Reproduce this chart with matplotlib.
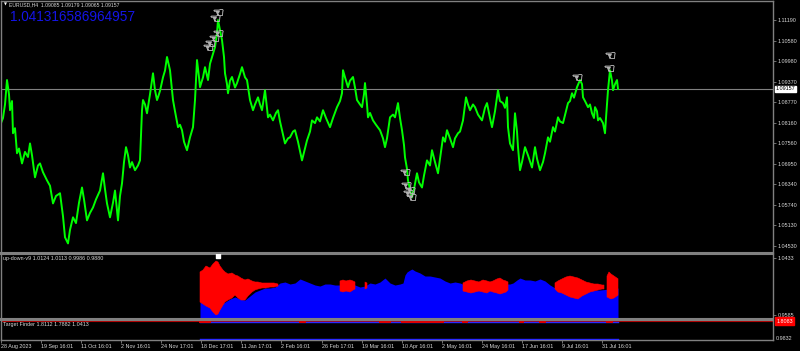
import numpy as np
import matplotlib
matplotlib.use("Agg")
import matplotlib.pyplot as plt
from matplotlib.textpath import TextPath
from matplotlib.font_manager import FontProperties
from matplotlib.markers import MarkerStyle

plt.rcParams['font.family'] = ['Liberation Sans', 'DejaVu Sans']

# ---------------- data ----------------
# time index (1 unit ~ 2.4 H4 bars)
price_t = [1, 3, 5, 7, 9, 10, 12, 13, 15, 17, 19, 22, 25, 28, 30, 32, 35, 38, 40, 43, 47, 50, 53, 56, 60,
           63, 65, 68, 70, 73, 76, 79, 82, 84, 87, 90, 93, 96, 100, 103, 105, 107, 110, 113, 115, 118, 120,
           122, 124, 126, 128, 130, 132, 135, 138, 140, 142, 143, 145, 147, 150, 153, 155, 157, 158, 160,
           163, 165, 167, 170, 173, 175, 178, 180, 182, 184, 187, 190, 193, 195, 197, 199, 200, 203, 205,
           208, 210, 212, 215, 217, 218, 220, 222, 224, 225, 227, 228, 230, 232, 235, 237, 240, 242, 245,
           247, 250, 253, 255, 258, 260, 262, 265, 268, 270, 273, 276, 278, 280, 282, 285, 288, 290, 293,
           295, 298, 302, 305, 307, 310, 312, 315, 317, 320, 323, 326, 330, 333, 337, 340, 342, 343, 345,
           348, 350, 353, 355, 357, 360, 362, 364, 365, 367, 368, 370, 373, 376, 380, 383, 385, 387, 390,
           393, 395, 398, 400, 402, 404, 405, 407, 408, 410, 412, 414, 417, 419, 422, 424, 427, 430, 432,
           435, 438, 440, 443, 445, 447, 450, 453, 455, 458, 460, 463, 466, 468, 470, 473, 475, 478, 482,
           485, 487, 490, 492, 495, 498, 500, 503, 505, 507, 508, 510, 513, 515, 517, 518, 520, 522, 525,
           528, 532, 535, 537, 540, 543, 545, 548, 550, 553, 555, 558, 560, 563, 566, 568, 570, 572, 574,
           577, 580, 582, 583, 585, 588, 590, 592, 594, 595, 597, 598, 600, 603, 605, 606, 608, 610, 612,
           613, 615, 617, 618]
price_close = [1.0815, 1.0830, 1.0870, 1.0942, 1.0900, 1.0853, 1.0880, 1.0785, 1.0800, 1.0726, 1.0740,
               1.0696, 1.0730, 1.0715, 1.0755, 1.0720, 1.0655, 1.0690, 1.0696, 1.0670, 1.0646, 1.0630,
               1.0578, 1.0600, 1.0608, 1.0540, 1.0478, 1.0460, 1.0500, 1.0537, 1.0520, 1.0580, 1.0625,
               1.0590, 1.0528, 1.0550, 1.0566, 1.0590, 1.0616, 1.0667, 1.0620, 1.0578, 1.0537, 1.0580,
               1.0616, 1.0528, 1.0600, 1.0637, 1.0700, 1.0744, 1.0720, 1.0684, 1.0700, 1.0676, 1.0690,
               1.0705, 1.0853, 1.0883, 1.0870, 1.0844, 1.0900, 1.0962, 1.0912, 1.0883, 1.0891, 1.0910,
               1.0950, 1.0970, 1.1010, 1.0971, 1.0883, 1.0850, 1.0803, 1.0810, 1.0794, 1.0760, 1.0735,
               1.0773, 1.0803, 1.0883, 1.1001, 1.0950, 1.0921, 1.0950, 1.0980, 1.0942, 1.0990, 1.1010,
               1.1039, 1.1080, 1.1119, 1.1090, 1.1060, 1.1010, 1.0962, 1.0930, 1.0903, 1.0940, 1.0951,
               1.0920, 1.0933, 1.0960, 1.0980, 1.0950, 1.0942, 1.0883, 1.0853, 1.0870, 1.0891, 1.0870,
               1.0853, 1.0912, 1.0832, 1.0840, 1.0823, 1.0845, 1.0853, 1.0820, 1.0794, 1.0755, 1.0770,
               1.0773, 1.0790, 1.0794, 1.0760, 1.0705, 1.0740, 1.0764, 1.0790, 1.0823, 1.0815, 1.0832,
               1.0820, 1.0853, 1.0830, 1.0803, 1.0830, 1.0862, 1.0880, 1.0903, 1.0971, 1.0950, 1.0921,
               1.0940, 1.0951, 1.0920, 1.0883, 1.0870, 1.0862, 1.0900, 1.0933, 1.0870, 1.0832, 1.0845,
               1.0823, 1.0810, 1.0794, 1.0770, 1.0744, 1.0770, 1.0832, 1.0840, 1.0832, 1.0874, 1.0830,
               1.0794, 1.0750, 1.0714, 1.0680, 1.0646, 1.0620, 1.0596, 1.0620, 1.0667, 1.0640, 1.0625,
               1.0660, 1.0705, 1.0690, 1.0735, 1.0700, 1.0667, 1.0710, 1.0773, 1.0760, 1.0794, 1.0770,
               1.0744, 1.0770, 1.0785, 1.0790, 1.0823, 1.0891, 1.0870, 1.0853, 1.0870, 1.0862, 1.0840,
               1.0823, 1.0860, 1.0874, 1.0830, 1.0803, 1.0850, 1.0912, 1.0880, 1.0874, 1.0860, 1.0891,
               1.0803, 1.0755, 1.0735, 1.0844, 1.0790, 1.0744, 1.0676, 1.0700, 1.0744, 1.0720, 1.0684,
               1.0744, 1.0710, 1.0676, 1.0700, 1.0726, 1.0773, 1.0760, 1.0803, 1.0790, 1.0832, 1.0820,
               1.0815, 1.0850, 1.0874, 1.0880, 1.0903, 1.0890, 1.0921, 1.0942, 1.0930, 1.0891, 1.0880,
               1.0862, 1.0870, 1.0844, 1.0830, 1.0862, 1.0850, 1.0823, 1.0830, 1.0815, 1.0785, 1.0830,
               1.0912, 1.0971, 1.0940, 1.0912, 1.0930, 1.0942, 1.09157]
last_price = 1.09157

price_ticks = [1.11190, 1.10580, 1.09980, 1.09370, 1.08770, 1.08160, 1.07560,
               1.06950, 1.06340, 1.05740, 1.05130, 1.04530]

signal_t = [218, 215, 218, 214, 210, 208, 405, 406, 410, 408, 411, 577, 610, 609]
signal_price = [1.1143, 1.1125, 1.1081, 1.1066, 1.1051, 1.1039, 1.0670, 1.0631, 1.0619,
                1.0608, 1.0596, 1.0951, 1.1016, 1.0977]

# up-down-v9 indicator
ud_t = [200, 205, 210, 215, 217, 220, 225, 230, 235, 240, 245, 250, 255, 260, 265, 270, 275, 280,
        285, 290, 295, 300, 305, 310, 315, 320, 325, 330, 335, 340, 345, 350, 355, 360, 365, 370,
        375, 380, 385, 390, 395, 400, 403, 405, 407, 410, 412, 415, 420, 425, 430, 435, 440, 445,
        450, 455, 460, 465, 470, 475, 480, 485, 490, 495, 500, 505, 510, 513, 517, 520, 525, 530,
        535, 540, 545, 550, 555, 560, 570, 580, 590, 600, 610, 618]
ud_blue = [0.9778, 0.9763, 0.9749, 0.9719, 0.9659, 0.9734, 0.9778, 0.9823, 0.9853, 0.9823, 0.9808,
           0.9868, 0.9927, 0.9957, 0.9987, 0.9987, 1.0001, 1.0061, 1.0076, 1.0046, 1.0061, 1.0121,
           1.0091, 1.0061, 1.0031, 1.0016, 1.0046, 1.0046, 1.0031, 1.0031, 1.0016, 1.0031, 1.0031,
           1.0001, 1.0016, 1.0061, 1.0046, 1.0076, 1.0135, 1.0061, 1.0031, 1.0046, 1.0061, 1.0180,
           1.0225, 1.0254, 1.0269, 1.0240, 1.0210, 1.0165, 1.0165, 1.0150, 1.0135, 1.0091, 1.0061,
           1.0076, 1.0061, 1.0031, 1.0046, 1.0016, 1.0031, 1.0046, 1.0031, 1.0016, 1.0031, 1.0046,
           1.0046, 1.0061, 1.0106, 1.0135, 1.0106, 1.0106, 1.0091, 1.0121, 1.0091, 1.0031, 0.9987,
           0.9957, 0.9957, 0.9942, 0.9957, 0.9957, 0.9972, 0.9986]

nan = float('nan')
red_t = [200, 203, 206, 210, 213, 216, 218, 220, 223, 225, 228, 232, 235, 238, 241, 245, 248, 252,
         255, 258, 262, 266, 270, 274, 278, 279,
         340, 343, 346, 350, 353, 355, 356,
         365, 367, 368,
         463, 467, 471, 475, 479, 483, 487, 490, 493, 497, 500, 503, 506, 508, 509,
         555, 558, 562, 566, 570, 574, 578, 582, 586, 590, 594, 598, 602, 604, 605,
         607, 609, 611, 614, 618]
red_hi = [1.0225, 1.0254, 1.0314, 1.0284, 1.0344, 1.0388, 1.0373, 1.0314, 1.0254, 1.0225, 1.0195,
          1.0210, 1.0180, 1.0165, 1.0135, 1.0106, 1.0121, 1.0091, 1.0076, 1.0076, 1.0061, 1.0061,
          1.0061, 1.0061, 1.0046, nan,
          1.0091, 1.0106, 1.0091, 1.0106, 1.0091, 1.0076, nan,
          1.0076, 1.0061, nan,
          1.0061, 1.0091, 1.0106, 1.0091, 1.0076, 1.0106, 1.0091, 1.0076, 1.0091, 1.0121, 1.0135,
          1.0106, 1.0091, 1.0076, nan,
          1.0061, 1.0091, 1.0121, 1.0150, 1.0165, 1.0150, 1.0135, 1.0106, 1.0076, 1.0061, 1.0046,
          1.0046, 1.0031, 1.0031, nan,
          1.0165, 1.0225, 1.0195, 1.0165, 1.0124]
red_lo = [0.9778, 0.9749, 0.9719, 0.9689, 0.9630, 0.9585, 0.9600, 0.9659, 0.9734, 0.9778, 0.9808,
          0.9838, 0.9882, 0.9838, 0.9808, 0.9808, 0.9868, 0.9927, 0.9957, 0.9972, 0.9987, 0.9987,
          1.0001, 1.0001, 1.0016, nan,
          0.9942, 0.9927, 0.9942, 0.9927, 0.9957, 0.9972, nan,
          0.9972, 0.9987, nan,
          0.9942, 0.9927, 0.9912, 0.9927, 0.9942, 0.9927, 0.9912, 0.9942, 0.9927, 0.9912, 0.9897,
          0.9912, 0.9927, 0.9957, nan,
          0.9972, 0.9927, 0.9912, 0.9882, 0.9853, 0.9838, 0.9823, 0.9868, 0.9897, 0.9927, 0.9942,
          0.9957, 0.9972, 0.9972, nan,
          0.9853, 0.9838, 0.9823, 0.9838, 0.9880]
ud_peak_t = [218]
ud_peak_v = [1.0463]
ud_labels = [1.0433, 0.9585]

# Target Finder indicator
tf_level = 1.8112
tf_upper_t = [200, 618]
tf_upper = [1.7882, 1.7882]
tf_lower = [1.0413, 1.0413]
tf_red_ranges = [(200, 210), (300, 305), (380, 390), (402, 443), (463, 467), (520, 523),
                 (540, 545), (607, 612)]

date_tick_t = [1, 41, 81, 121, 161, 201, 241, 281, 322, 362, 402, 442, 482, 522, 562, 602]
date_labels = ["28 Aug 2023", "19 Sep 16:01", "11 Oct 16:01", "2 Nov 16:01", "24 Nov 17:01",
               "18 Dec 17:01", "11 Jan 17:01", "2 Feb 16:01", "26 Feb 17:01", "19 Mar 16:01",
               "10 Apr 16:01", "2 May 16:01", "24 May 16:01", "17 Jun 16:01", "9 Jul 16:01",
               "31 Jul 16:01"]

# ---------------- figure ----------------
W, H = 800, 351
fig = plt.figure(figsize=(W / 100, H / 100), dpi=100, facecolor='black')


def rect(x0, y0, x1, y1):
    return [x0 / W, 1 - y1 / H, (x1 - x0) / W, (y1 - y0) / H]


ax = fig.add_axes(rect(1, 1, 773, 252.5))
ax_ud = fig.add_axes(rect(1, 254, 773, 318.5))
ax_tf = fig.add_axes(rect(1, 320, 773, 340))

GRAY = '#808080'
TXT = '#d8d8d8'
FS = 3.9

for a in (ax, ax_ud, ax_tf):
    a.set_facecolor('black')
    a.set_xlim(1, 773)
    for s in a.spines.values():
        s.set_color(GRAY)
        s.set_linewidth(1.0)
    a.yaxis.tick_right()
    a.tick_params(axis='y', direction='out', length=2, width=0.6, color=GRAY,
                  labelcolor=TXT, labelsize=FS, pad=1.5)
    a.tick_params(axis='x', bottom=False, labelbottom=False)

ax.spines['bottom'].set_linewidth(1.5)
ax_ud.spines['top'].set_linewidth(1.5)
ax_ud.spines['bottom'].set_linewidth(1.5)
ax_tf.spines['top'].set_linewidth(1.5)

# main price panel
ax.set_ylim(1.04332, 1.11752)
ax.axhline(last_price, color=GRAY, lw=0.8, zorder=1)
ax.plot(price_t, price_close, color='#00ff00', lw=1.4, zorder=2)
ax.set_yticks(price_ticks)
ax.set_yticklabels([f"{v:.5f}" for v in price_ticks])

hand = TextPath((0, 0), "\u261c", prop=FontProperties(family='DejaVu Sans'))
ext = hand.get_extents()
hand_marker = MarkerStyle(hand.transformed(
    matplotlib.transforms.Affine2D().translate(-ext.x0 - ext.width / 2, -ext.y0 - ext.height / 2)))
ax.scatter(signal_t, signal_price, marker=hand_marker, s=70, facecolor='white',
           edgecolor='#b0b0b0', linewidths=0.3, zorder=4)
ax.text(1.003, last_price, f"{last_price:.5f}", transform=ax.get_yaxis_transform(),
        fontsize=FS, color='black', va='center', ha='left',
        bbox=dict(boxstyle='square,pad=0.15', facecolor='white', edgecolor='white'))
ax.text(0.004, 0.986, "\u25bc", transform=ax.transAxes, fontsize=2.8, color='white',
        va='center', ha='left', family=['DejaVu Sans'])
ax.text(0.0105, 0.986, "EURUSD,H4  1.09085 1.09179 1.09065 1.09157", transform=ax.transAxes,
        fontsize=3.7, color=TXT, va='center', ha='left')
ax.text(0.0115, 0.935, "1.041316586964957", transform=ax.transAxes, fontsize=9.8,
        color='#1414e6', va='center', ha='left')

# up-down-v9 panel
ax_ud.set_ylim(0.95328, 1.04925)
base = 0.95328
ax_ud.fill_between(ud_t, base, ud_blue, color='#0000ff', lw=0, zorder=2)
rt = np.array(red_t, float)
rh = np.array(red_hi, float)
rl = np.array(red_lo, float)
mask = np.isfinite(rh)
ax_ud.fill_between(rt, np.where(mask, rl, 1.0), np.where(mask, rh, 1.0), where=mask,
                   color='#ff0000', lw=0.4, edgecolor='#ff0000', zorder=3)
ax_ud.scatter(ud_peak_t, ud_peak_v, marker='s', s=9, color='white', zorder=4)
ax_ud.set_yticks(ud_labels)
ax_ud.set_yticklabels([f"{v:.4f}" for v in ud_labels])
ax_ud.text(0.0026, 0.935, "up-down-v9 1.0124 1.0113 0.9986 0.9880", transform=ax_ud.transAxes,
           fontsize=FS, color=TXT, va='center', ha='left')

# Target Finder panel
ax_tf.set_ylim(0.9985, 1.854)
ax_tf.axhline(tf_level, color='#b00000', lw=0.8, zorder=2)
ax_tf.plot(tf_upper_t, tf_upper, color='#2a2aff', lw=1.0, zorder=3)
for a0, a1 in tf_red_ranges:
    ax_tf.plot([a0, a1], [tf_upper[0], tf_upper[0]], color='#e00000', lw=1.4, zorder=4)
ax_tf.plot(tf_upper_t, tf_lower, color='#2a2aff', lw=1.0, zorder=3)
ax_tf.set_yticks([])
ax_tf.text(1.004, tf_level, "1.8083", transform=ax_tf.get_yaxis_transform(), fontsize=FS,
           color='white', va='center', ha='left',
           bbox=dict(boxstyle='square,pad=0.2', facecolor='#ff0000', edgecolor='#ff0000'))
ax_tf.text(1.004, 0.1, "0.9832", transform=ax_tf.transAxes, fontsize=FS, color=TXT,
           va='center', ha='left')
ax_tf.text(0.0026, 0.78, "Target Finder 1.8112 1.7882 1.0413", transform=ax_tf.transAxes,
           fontsize=FS, color=TXT, va='center', ha='left')

ax_tf.set_xticks(date_tick_t)
ax_tf.set_xticklabels(date_labels)
ax_tf.tick_params(axis='x', bottom=True, labelbottom=True, direction='out', length=2, width=0.6,
                  color=GRAY, labelcolor=TXT, labelsize=FS, pad=1.0)
for lab in ax_tf.get_xticklabels():
    lab.set_horizontalalignment('left')

fig.savefig('out.png', dpi=100, facecolor='black')
